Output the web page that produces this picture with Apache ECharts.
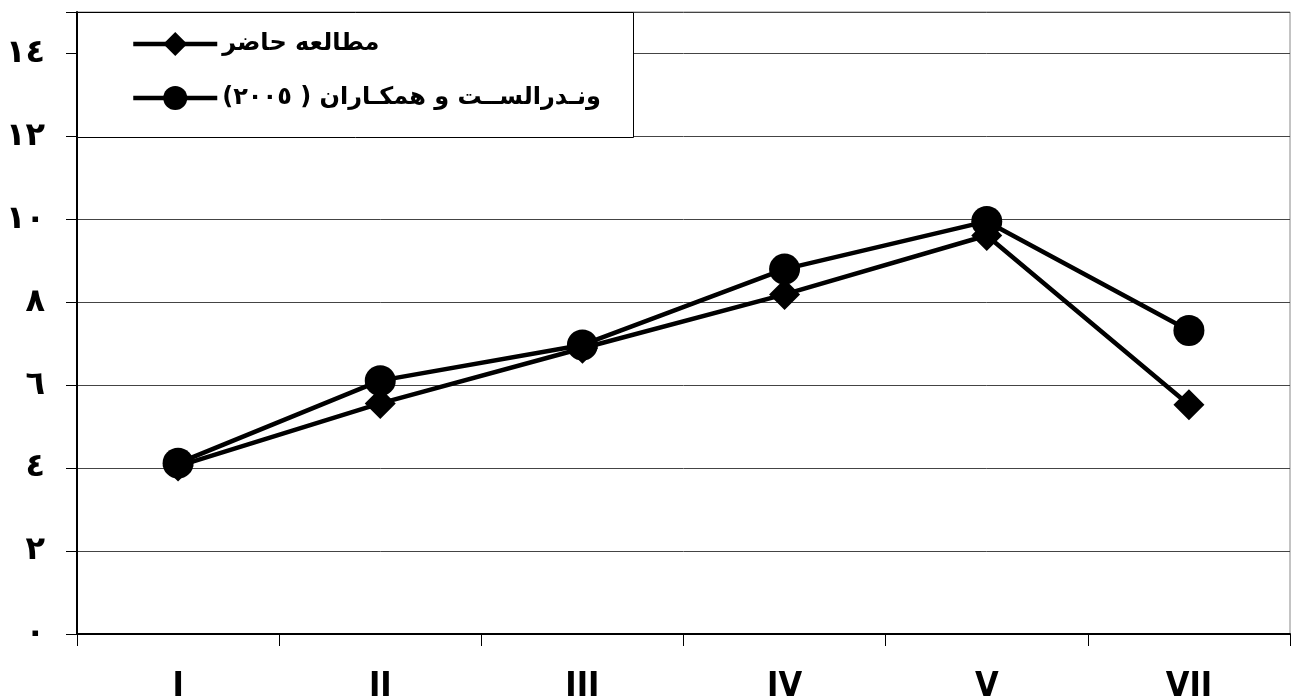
<!DOCTYPE html>
<html><head><meta charset="utf-8">
<script src="https://cdn.jsdelivr.net/npm/echarts@6/dist/echarts.min.js"></script>
<style>html,body{margin:0;padding:0;background:#fff}#c{width:1292px;height:699px}</style>
</head><body><div id="c"></div>
<script>
const categories = ['I', 'II', 'III', 'IV', 'V', 'VII'];
const seriesNames = ['مطالعه حاضر', 'ونـدرالســت و همکـاران ( ٢٠٠٥)'];
const currentStudy = [4.05, 5.56, 6.89, 8.19, 9.61, 5.53];
const vanderlust2005 = [4.12, 6.11, 6.97, 8.80, 9.95, 7.32];
const yTickValues = [0, 2, 4, 6, 8, 10, 12, 14];
const yTickLabels = ['٠', '٢', '٤', '٦', '٨', '١٠', '١٢', '١٤'];

const chart = echarts.init(document.getElementById('c'), null, {renderer: 'canvas'});
const arabicFont = '"DejaVu Sans", sans-serif';
chart.setOption({
  animation: false,
  backgroundColor: '#fff',
  grid: {left: 77, right: 2, top: 12, bottom: 65, show: true, borderColor: '#888', borderWidth: 1,
         containLabel: false, outerBoundsMode: 'none'},
  graphic: [{
    type: 'rect', z: 3, left: 77, top: 12,
    shape: {width: 556, height: 125},
    style: {fill: '#fff', stroke: '#000', lineWidth: 1}
  }],
  legend: {
    orient: 'vertical', left: 126, top: 27, z: 5,
    itemWidth: 84, itemHeight: 30, itemGap: 30,
    lineStyle: {width: 4.5, color: '#000'},
    textStyle: {fontFamily: arabicFont, fontWeight: 'bold', fontSize: 24, color: '#000'},
    data: seriesNames
  },
  xAxis: {
    type: 'category', data: categories, boundaryGap: true,
    axisLine: {lineStyle: {color: '#000', width: 2}},
    axisTick: {show: true, length: 12, lineStyle: {color: '#000', width: 1}},
    axisLabel: {margin: 36, fontFamily: '"Liberation Sans Narrow", "DejaVu Sans Condensed", sans-serif', fontWeight: 'bold', fontSize: 34, color: '#000'},
    splitLine: {show: false}
  },
  yAxis: {
    type: 'value', min: 0, max: 15, interval: 2,
    axisLine: {show: true, lineStyle: {color: '#000', width: 2}},
    axisTick: {show: true, length: 11, lineStyle: {color: '#000', width: 1}},
    axisLabel: {
      margin: 32, fontFamily: arabicFont, fontWeight: 'bold', fontSize: 32, color: '#000',
      formatter: function (v) { const i = yTickValues.indexOf(v); return i >= 0 ? yTickLabels[i] : ''; }
    },
    splitLine: {show: true, lineStyle: {color: '#444', width: 1}}
  },
  series: [
    {name: seriesNames[0], type: 'line', data: currentStudy, symbol: 'diamond', symbolSize: 31,
     lineStyle: {color: '#000', width: 4.5}, itemStyle: {color: '#000'}, z: 2},
    {name: seriesNames[1], type: 'line', data: vanderlust2005, symbol: 'circle', symbolSize: 31,
     lineStyle: {color: '#000', width: 4.5}, itemStyle: {color: '#000'}, z: 3}
  ]
});
</script></body></html>
